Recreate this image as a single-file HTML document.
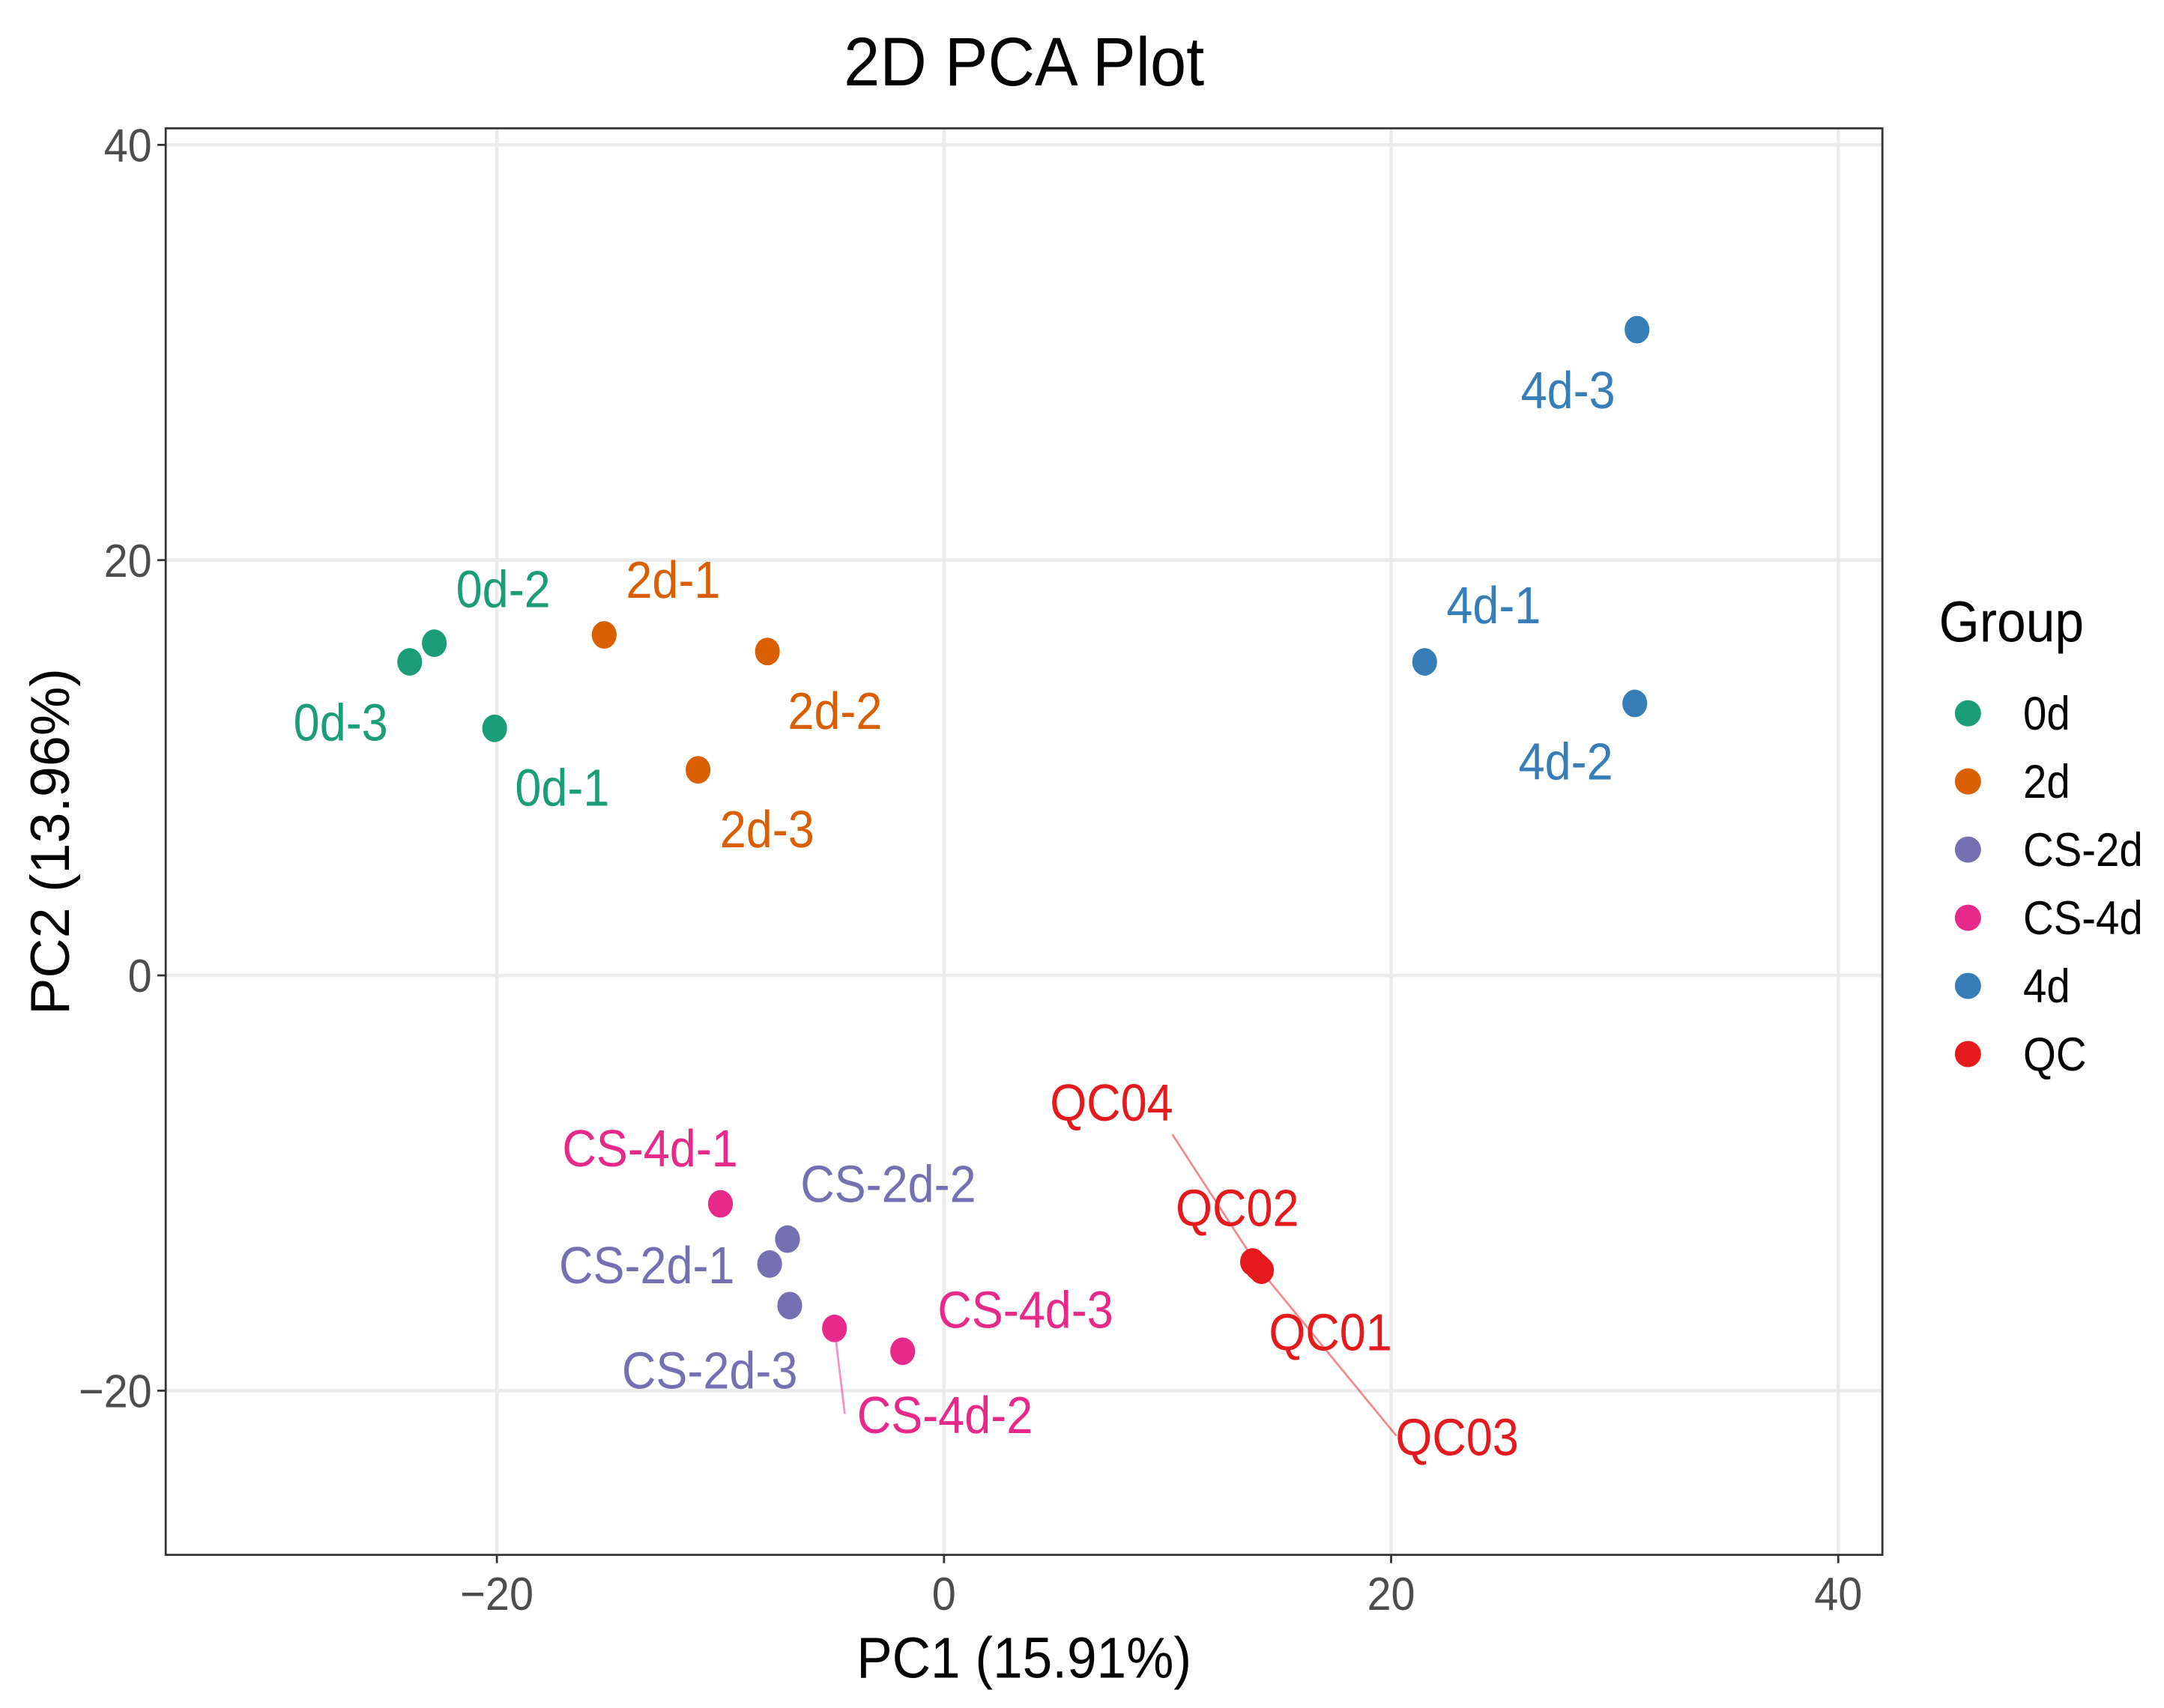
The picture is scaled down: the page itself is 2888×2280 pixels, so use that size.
<!DOCTYPE html>
<html><head><meta charset="utf-8"><style>
html,body{margin:0;padding:0;background:#fff;}
svg{display:block;font-family:"Liberation Sans",sans-serif;}
</style></head><body>
<svg id="chart" width="2888" height="2280" viewBox="0 0 1568 1238" xmlns="http://www.w3.org/2000/svg">
<rect x="0" y="0" width="1568" height="1238" fill="#fff"/>
<text transform="translate(742,62) scale(0.94,1)" font-size="50" text-anchor="middle" fill="#000">2D PCA Plot</text>
<g id="grid"></g>
<rect x="120" y="93" width="1244" height="1034" fill="none" stroke="#333" stroke-width="1.5"/>
<g id="axes"></g>
<g id="marks"></g>
<text transform="translate(742,1216) scale(0.92,1)" font-size="42" text-anchor="middle" fill="#000">PC1 (15.91%)</text>
<text transform="translate(50,610) rotate(-90)" font-size="40" text-anchor="middle" fill="#000">PC2 (13.96%)</text>
<text transform="translate(1405,465) scale(0.9,1)" font-size="42" fill="#000">Group</text>
<g id="legend"></g>
</svg>
<script>
const groups = ["0d","2d","CS-2d","CS-4d","4d","QC"];
const groupColors = ["#1B9E77","#D95F02","#7570B3","#E7298A","#377EB8","#E41A1C"];
const sampleNames = ["0d-1","0d-2","0d-3","2d-1","2d-2","2d-3","4d-1","4d-2","4d-3","CS-2d-1","CS-2d-2","CS-2d-3","CS-4d-1","CS-4d-2","CS-4d-3","QC01","QC02","QC03","QC04"];
const sampleGroups = ["0d","0d","0d","2d","2d","2d","4d","4d","4d","CS-2d","CS-2d","CS-2d","CS-4d","CS-4d","CS-4d","QC","QC","QC","QC"];
const pc1 = [-20.1,-22.8,-23.9,-15.2,-7.9,-11.0,21.5,30.9,31.0,-7.8,-7.0,-6.9,-10.0,-4.9,-1.85,14.2,13.8,14.0,14.1];
const pc2 = [11.9,16.0,15.1,16.4,15.6,9.9,15.1,13.1,31.1,-13.9,-12.7,-15.9,-11.0,-17.0,-18.1,-14.2,-13.8,-14.0,-14.1];
const xTicks = [-20,0,20,40];
const yTicks = [-20,0,20,40];
// label offsets (px, layout only)
const lblDx = [49,50,-50,50,49,50,50,-50,-50,-89,73,-58,-51,80,89,50,-11,145,-107];
const lblDy = [54,-28,55,-29,54,54,-30,53,55,12,-29,58,-29,74,-19,56,-28,135,-109];
const leader = [0,0,0,0,0,0,0,0,0,0,0,0,0,1,0,0,0,1,1];

const NS="http://www.w3.org/2000/svg";
const X0=120,X1=1364,Y0=93,Y1=1127;
function sx(v){return 684+v*16.2;}
function sy(v){return 707-v*15.05;}
function mk(t,a,p){const e=document.createElementNS(NS,t);for(const k in a)e.setAttribute(k,a[k]);p.appendChild(e);return e;}
function txt(x,y,s,a,p){a.transform='translate('+x+','+y+') scale('+s+',1)';return mk('text',a,p);}
const grid=document.getElementById('grid'),axes=document.getElementById('axes'),marks=document.getElementById('marks'),legend=document.getElementById('legend');
mk('rect',{x:X0,y:Y0,width:X1-X0,height:Y1-Y0,fill:'#fff'},grid);
xTicks.forEach(t=>{
  const l=mk('line',{x1:sx(t),x2:sx(t),y1:Y0,y2:Y1,stroke:'#ebebeb','stroke-width':2.5},grid);
  
  
  mk('line',{x1:sx(t),x2:sx(t),y1:Y1,y2:Y1+6,stroke:'#333','stroke-width':1.5},axes);
  const tx=txt(sx(t),Y1+40,0.92,{'font-size':34,'text-anchor':'middle',fill:'#4d4d4d'},axes);
  tx.textContent=t<0?'\u2212'+(-t):String(t);
  
  
});
yTicks.forEach(t=>{
  const l=mk('line',{x1:X0,x2:X1,y1:sy(t),y2:sy(t),stroke:'#ebebeb','stroke-width':2.5},grid);
  
  
  mk('line',{x1:X0-6,x2:X0,y1:sy(t),y2:sy(t),stroke:'#333','stroke-width':1.5},axes);
  const tx=txt(X0-10,sy(t)+12,0.92,{'font-size':34,'text-anchor':'end',fill:'#4d4d4d'},axes);
  tx.textContent=t<0?'\u2212'+(-t):String(t);
  
  
});
sampleNames.forEach((n,i)=>{
  const c=groupColors[groups.indexOf(sampleGroups[i])];
  const px=sx(pc1[i]),py=sy(pc2[i]);
  const lx=px+lblDx[i],ly=py+lblDy[i];
  if(leader[i]){
    const tw=n.length*9.5;
    const ex=lblDx[i]>0?lx-tw-6:lx+tw+6;
    const ey=lblDy[i]>0?ly-12:ly+12;
    const ln=mk('line',{x1:px,y1:py,x2:ex,y2:ey,stroke:c,'stroke-opacity':0.5,'stroke-width':1.5},marks);
    
    
  }
  const pt=mk('ellipse',{cx:px,cy:py,rx:9,ry:10,fill:c},marks);
  
  
  const tx=txt(lx,ly+2,0.9,{'font-size':38,'text-anchor':'middle',fill:c},marks);
  tx.textContent=n;
  
  
});
groups.forEach((g,i)=>{
  const y=517+i*49.4;
  const d=mk('circle',{cx:1426,cy:y,r:9.5,fill:groupColors[i]},legend);
  
  
  const t=txt(1466,y+12,0.9,{'font-size':34,fill:'#000'},legend);
  t.textContent=g;
  
  
});
</script>
</body></html>
